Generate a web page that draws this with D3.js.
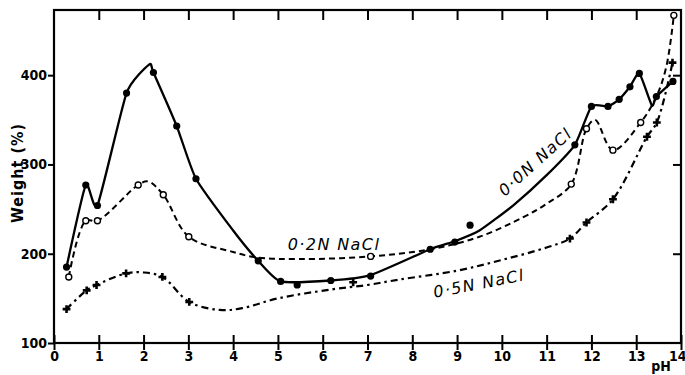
<!DOCTYPE html>
<html>
<head>
<meta charset="utf-8">
<script src="https://cdn.jsdelivr.net/npm/d3@7"></script>
<style>
  body { margin: 0; background: #fff; }
  text { fill: #000; }
</style>
</head>
<body>
<div id="chart"></div>
<script>
// pH ticks and weight ticks
const xTicks = [0, 1, 2, 3, 4, 5, 6, 7, 8, 9, 10, 11, 12, 13, 14]
const yTicks = [100, 200, 300, 400]

// 0.0N NaCl - measured points (filled dots)
const marks00 = [[0.28, 185], [0.71, 277], [0.97, 254], [1.62, 380], [2.22, 403], [2.74, 343], [3.17, 284],
  [4.56, 192], [5.06, 169], [5.43, 165], [6.18, 170], [7.07, 175], [8.4, 205], [8.95, 213], [9.29, 232],
  [11.63, 322], [12.0, 365], [12.37, 365], [12.62, 373], [12.86, 387], [13.07, 402], [13.45, 376], [13.82, 393]]
// 0.0N NaCl - drawn curve
const curve00 = [[0.28, 185], [0.71, 277], [0.97, 254], [1.62, 380], [2.13, 412], [2.22, 403], [2.74, 343],
  [3.17, 284], [4.0, 226], [4.56, 192], [5.06, 169], [6.18, 170], [7.07, 176], [8.4, 205], [8.95, 214],
  [9.5, 226], [10.25, 254], [11.0, 288], [11.63, 322], [12.0, 365], [12.37, 365], [12.62, 373], [12.86, 387],
  [13.07, 402], [13.35, 366], [13.45, 376], [13.82, 393]]

// 0.2N NaCl (open circles, dashed)
const marks02 = [[0.33, 174], [0.71, 237], [0.97, 237], [1.88, 277], [2.44, 266], [3.01, 219], [7.07, 197],
  [11.55, 278], [11.89, 340], [12.48, 316], [13.1, 347], [13.84, 467]]
const curve02 = [[0.33, 174], [0.71, 237], [0.97, 237], [1.88, 277], [2.1, 281], [2.44, 266], [3.01, 219],
  [4.0, 202], [4.5, 196], [5.5, 194], [7.07, 197], [8.4, 205], [9.5, 219], [10.48, 241], [11.0, 256],
  [11.55, 278], [11.89, 340], [12.08, 350], [12.48, 316], [13.1, 347], [13.45, 376], [13.67, 409], [13.84, 467]]

// 0.5N NaCl (crosses, dash-dot)
const marks05 = [[0.28, 138], [0.73, 159], [0.95, 165], [1.61, 178], [2.42, 174], [3.02, 146], [6.68, 168],
  [11.52, 217], [11.89, 235], [12.48, 261], [13.24, 331], [13.46, 347], [13.81, 414]]
const curve05 = [[0.28, 138], [0.73, 159], [0.95, 165], [1.61, 178], [2.0, 179], [2.42, 174], [3.02, 146],
  [3.7, 137], [4.2, 139], [5.0, 150], [6.2, 160], [7.0, 165], [7.7, 171], [9.0, 181], [10.0, 193],
  [11.0, 207], [11.52, 217], [11.89, 235], [12.48, 261], [13.24, 331], [13.46, 347], [13.81, 414]]

const W = 685, H = 375
const margin = { top: 10, right: 5, bottom: 32, left: 54 }
const width = W - margin.left - margin.right
const height = H - margin.top - margin.bottom
const font = '"DejaVu Sans Condensed", "DejaVu Sans", sans-serif'

const svg = d3.select('#chart').append('svg')
  .attr('width', W)
  .attr('height', H)

const g = svg.append('g')
  .attr('transform', `translate(${margin.left}, ${margin.top})`)

const x = d3.scaleLinear().domain([0, 14]).range([0, width + 1])
const y = d3.scaleLinear().domain([100, 473]).range([height, 0])

// frame
g.append('rect')
  .attr('x', 0).attr('y', 0)
  .attr('width', x(14)).attr('height', height)
  .attr('fill', 'none')
  .attr('stroke', '#000')
  .attr('stroke-width', 2.2)

// bottom axis, ticks crossing the line
const xAxis = g.append('g')
  .attr('transform', `translate(0, ${height})`)
  .call(d3.axisBottom(x).tickValues(xTicks).tickSize(7).tickPadding(1).tickFormat(d3.format('d')))
xAxis.select('.domain').remove()
xAxis.selectAll('.tick line').attr('y1', -8).attr('stroke-width', 2)
xAxis.selectAll('.tick text')
  .attr('font-family', font).attr('font-size', 14).attr('font-weight', 'bold')
  .filter(d => d === 14)
  .attr('text-anchor', 'end').attr('dx', 5)

// top ticks pointing in
g.append('g')
  .call(d3.axisTop(x).tickValues(xTicks.slice(1, -1)).tickSize(-10).tickFormat(''))
  .call(a => a.select('.domain').remove())
  .selectAll('.tick line').attr('stroke-width', 2)

// left axis
const yAxis = g.append('g')
  .call(d3.axisLeft(y).tickValues(yTicks).tickSize(6).tickPadding(1))
yAxis.select('.domain').remove()
yAxis.selectAll('.tick line').attr('stroke-width', 2)
yAxis.selectAll('.tick text')
  .attr('font-family', font).attr('font-size', 14).attr('font-weight', 'bold')

// right ticks pointing in
g.append('g')
  .attr('transform', `translate(${x(14)}, 0)`)
  .call(d3.axisRight(y).tickValues(yTicks.slice(1)).tickSize(-8).tickFormat(''))
  .call(a => a.select('.domain').remove())
  .selectAll('.tick line').attr('stroke-width', 2)

// axis titles
svg.append('text')
  .attr('transform', 'translate(23, 173) rotate(-90)')
  .attr('text-anchor', 'middle')
  .attr('font-family', font).attr('font-size', 16).attr('font-weight', 'bold')
  .attr('letter-spacing', 1)
  .text('Weight (%)')

svg.append('text')
  .attr('x', 661).attr('y', 371)
  .attr('text-anchor', 'middle')
  .attr('font-family', font).attr('font-size', 14).attr('font-weight', 'bold')
  .text('pH')

// curves
const smooth = d3.line()
  .x(d => x(d[0]))
  .y(d => y(d[1]))
  .curve(d3.curveCatmullRom.alpha(0.5))

// the 0.0N line is drawn with harder corners
const stiff = d3.line()
  .x(d => x(d[0]))
  .y(d => y(d[1]))
  .curve(d3.curveCardinal.tension(0.45))

g.append('path')
  .datum(curve00)
  .attr('fill', 'none').attr('stroke', '#000').attr('stroke-width', 2.3)
  .attr('stroke-linejoin', 'round')
  .attr('d', stiff)

g.append('path')
  .datum(curve02)
  .attr('fill', 'none').attr('stroke', '#000').attr('stroke-width', 2)
  .attr('stroke-dasharray', '6,4')
  .attr('d', smooth)

g.append('path')
  .datum(curve05)
  .attr('fill', 'none').attr('stroke', '#000').attr('stroke-width', 2.2)
  .attr('stroke-dasharray', '7,4,2.5,4')
  .attr('d', smooth)

// markers
g.selectAll('.dot00')
  .data(marks00).enter()
  .append('circle')
  .attr('class', 'dot00')
  .attr('cx', d => x(d[0])).attr('cy', d => y(d[1]))
  .attr('r', 3.6)
  .attr('fill', '#000')

g.selectAll('.dot02')
  .data(marks02).enter()
  .append('circle')
  .attr('class', 'dot02')
  .attr('cx', d => x(d[0])).attr('cy', d => y(d[1]))
  .attr('r', 3)
  .attr('fill', '#fff')
  .attr('stroke', '#000')
  .attr('stroke-width', 1.4)

g.selectAll('.dot05')
  .data(marks05).enter()
  .append('path')
  .attr('class', 'dot05')
  .attr('transform', d => `translate(${x(d[0])}, ${y(d[1])})`)
  .attr('d', d3.symbol(d3.symbolCross, 34))
  .attr('fill', '#000')

// series labels
const lab = (t, tx, ty, rot) => svg.append('text')
  .attr('transform', `translate(${tx}, ${ty}) rotate(${rot})`)
  .attr('text-anchor', 'middle')
  .attr('font-family', '"DejaVu Sans", sans-serif')
  .attr('font-style', 'italic')
  .attr('font-size', 16)
  .attr('letter-spacing', 1.4)
  .text(t)

lab('0·2N NaCl', 334, 250, 0)
lab('0·5N NaCl', 480, 289, -11)
lab('0·0N NaCl', 539, 166, -42)
</script>
</body>
</html>
